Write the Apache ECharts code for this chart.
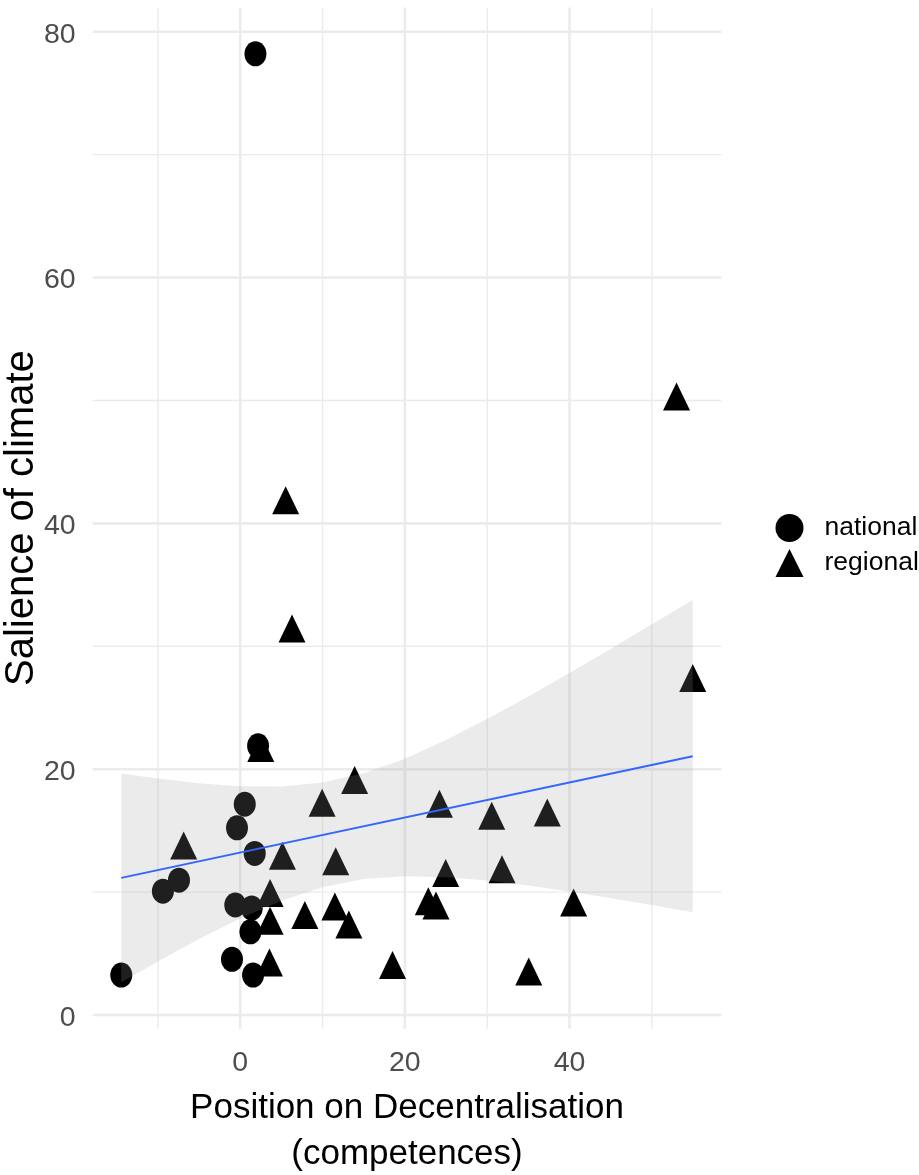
<!DOCTYPE html>
<html><head><meta charset="utf-8">
<script src="https://cdn.jsdelivr.net/npm/echarts@6/dist/echarts.min.js"></script>
<style>html,body{margin:0;padding:0;background:#fff}#c{width:919px;height:1175px}</style>
</head><body><div id="c"></div>
<script>
// ---- data ----
const nationalX = [1.85, 2.17, 0.55, -0.39, 1.76, -7.44, -9.39, -0.6, 1.4, 1.24, -1.0, 1.56, -14.45];
const nationalY = [78.2, 21.9, 17.15, 15.23, 13.15, 10.97, 10.08, 8.95, 8.7, 6.77, 4.53, 3.25, 3.25];
const regionalX = [53.0, 5.52, 6.29, 54.97, 2.5, 13.9, 9.95, 24.2, 30.55, 37.3, -6.87, 5.13, 11.6, 24.96, 31.8, 3.63, 11.5, 22.85, 23.78, 40.5, 7.85, 3.63, 13.2, 3.55, 18.5, 35.05];
const regionalY = [49.95, 41.5, 31.07, 27.05, 21.34, 18.75, 16.9, 16.8, 15.83, 16.1, 13.42, 12.58, 12.13, 11.18, 11.49, 9.55, 8.46, 8.88, 8.54, 8.78, 7.76, 7.29, 6.98, 3.9, 3.7, 3.16];
const fitX = [-14.45, 54.97];
const fitY = [11.16, 21.06];
const bandX = [-14.45, -10, -5, 0, 5, 10, 15, 20, 25, 30, 35, 40, 45, 50, 54.97];
const bandLow = [2.66, 4.36, 6.18, 7.85, 9.29, 10.40, 11.06, 11.30, 11.22, 10.94, 10.53, 10.05, 9.51, 8.95, 8.36];
const bandHigh = [19.66, 19.24, 18.86, 18.61, 18.59, 18.92, 19.68, 20.86, 22.38, 24.08, 25.91, 27.83, 29.79, 31.79, 33.76];
const xTickLabels = [0, 20, 40];
const yTickLabels = [0, 20, 40, 60, 80];
const xMinorGrid = [-10, 10, 30, 50];
const yMinorGrid = [10, 30, 50, 70];

const X_MIN = -17.92, X_MAX = 58.44, Y_MIN = -1.12, Y_MAX = 81.98;
const FONT = '"Liberation Sans", Arial, Helvetica, sans-serif';
const ELLIPSE = 'path://M0,-10A10,10,0,1,1,0,10A10,10,0,1,1,0,-10Z';

const gridData = [];
xTickLabels.forEach(v => gridData.push([v, 0, 1]));
xMinorGrid.forEach(v => gridData.push([v, 0, 0]));
yTickLabels.forEach(v => gridData.push([v, 1, 1]));
yMinorGrid.forEach(v => gridData.push([v, 1, 0]));

const chart = echarts.init(document.getElementById('c'), null, {renderer: 'canvas'});
chart.setOption({
  animation: false,
  backgroundColor: '#ffffff',
  grid: {left: 92.7, right: 197.7, top: 7.4, bottom: 146.2, containLabel: false, outerBoundsMode: 'none'},
  xAxis: {
    type: 'value', min: X_MIN, max: X_MAX,
    axisLine: {show: false, onZero: false}, axisTick: {show: false}, splitLine: {show: false},
    axisLabel: {customValues: xTickLabels, fontSize: 28.5, color: '#4d4d4d', fontFamily: FONT, margin: 20},
    name: 'Position on Decentralisation\n(competences)', nameLocation: 'middle', nameGap: 57,
    nameMoveOverlap: false,
    nameTextStyle: {fontSize: 35, color: '#000', fontFamily: FONT, lineHeight: 46}
  },
  yAxis: {
    type: 'value', min: Y_MIN, max: Y_MAX,
    axisLine: {show: false, onZero: false}, axisTick: {show: false}, splitLine: {show: false},
    axisLabel: {
      customValues: yTickLabels, color: '#4d4d4d', fontFamily: FONT, fontSize: 28.5, margin: 17,
      formatter: '{t|{value}}',
      rich: {t: {fontSize: 28.5, color: '#4d4d4d', fontFamily: FONT, padding: [6, 0, 0, 0]}}
    },
    name: 'Salience of climate', nameLocation: 'middle', nameGap: 51, nameRotate: 90,
    nameMoveOverlap: false,
    nameTextStyle: {fontSize: 40, color: '#000', fontFamily: FONT}
  },
  legend: {
    orient: 'vertical', left: 775.5, top: 514, padding: 0, itemWidth: 28, itemHeight: 28, itemGap: 7,
    textStyle: {fontSize: 26.5, color: '#000', fontFamily: FONT, padding: [0, 0, 0, 16], overflow: 'none'},
    data: [{name: 'national', icon: ELLIPSE}, {name: 'regional', icon: 'triangle'}]
  },
  series: [
    {
      type: 'custom', name: 'grid', z: 0, silent: true,
      data: gridData,
      renderItem: function (params, api) {
        const cs = params.coordSys;
        const v = api.value(0), t = api.value(1), m = api.value(2);
        const w = m ? 2.6 : 1.4;
        let shape;
        if (t === 0) {
          const p = api.coord([v, 0]);
          shape = {x1: p[0], y1: cs.y, x2: p[0], y2: cs.y + cs.height};
        } else {
          const p = api.coord([0, v]);
          shape = {x1: cs.x, y1: p[1], x2: cs.x + cs.width, y2: p[1]};
        }
        return {type: 'line', shape: shape, style: {stroke: '#ebebeb', lineWidth: w}};
      }
    },
    {
      type: 'scatter', name: 'national', z: 1,
      symbol: ELLIPSE, symbolSize: [22, 25],
      itemStyle: {color: '#000', opacity: 1},
      data: nationalX.map((x, i) => [x, nationalY[i]])
    },
    {
      type: 'scatter', name: 'regional', z: 1,
      symbol: 'triangle', symbolSize: [27, 28], symbolOffset: [0, -4.67],
      itemStyle: {color: '#000', opacity: 1},
      data: regionalX.map((x, i) => [x, regionalY[i]])
    },
    {
      type: 'custom', name: 'band', z: 2, silent: true,
      data: [[bandX[0], bandLow[0]]],
      renderItem: function (params, api) {
        const pts = [];
        for (let i = 0; i < bandX.length; i++) pts.push(api.coord([bandX[i], bandHigh[i]]));
        for (let i = bandX.length - 1; i >= 0; i--) pts.push(api.coord([bandX[i], bandLow[i]]));
        return {type: 'polygon', shape: {points: pts}, style: {fill: 'rgba(153,153,153,0.2)'}};
      }
    },
    {
      type: 'line', name: 'fit', z: 3, silent: true, showSymbol: false, symbol: 'none',
      lineStyle: {color: '#3366FF', width: 2},
      data: fitX.map((x, i) => [x, fitY[i]])
    }
  ]
});
</script></body></html>
